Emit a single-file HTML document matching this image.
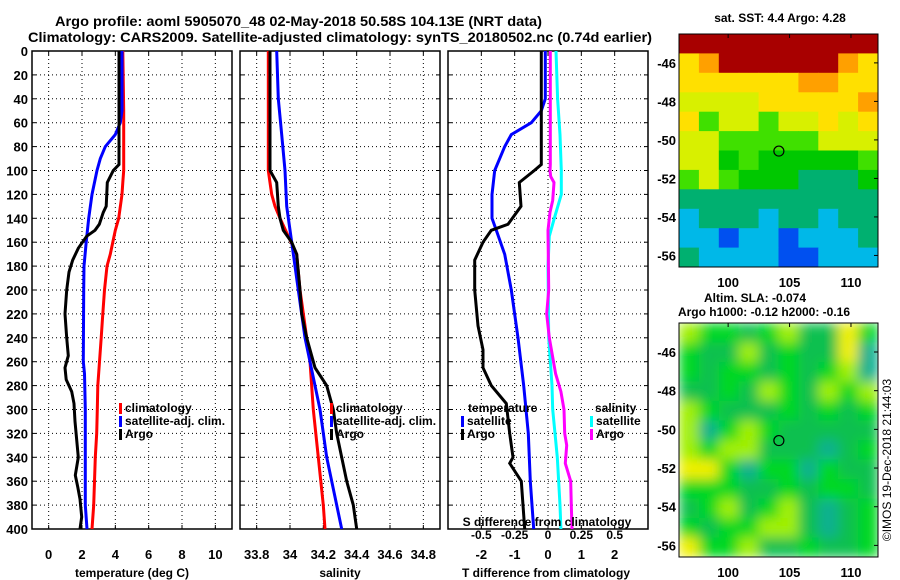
<!DOCTYPE html>
<html><head><meta charset="utf-8">
<style>
html,body{margin:0;padding:0;background:#fff;}
svg{display:block;font-family:"Liberation Sans",Arial,sans-serif;font-weight:bold;}
</style></head>
<body>
<svg id="c" width="900" height="580" viewBox="0 0 900 580" xmlns="http://www.w3.org/2000/svg">
<text x="55" y="26" font-size="14" textLength="487" lengthAdjust="spacingAndGlyphs">Argo profile: aoml 5905070_48 02-May-2018 50.58S 104.13E (NRT data)</text>
<text x="28" y="42" font-size="14" textLength="624" lengthAdjust="spacingAndGlyphs">Climatology: CARS2009. Satellite-adjusted climatology: synTS_20180502.nc (0.74d earlier)</text>
<g id="g"></g>
</svg>
<script>
// ---------- data ----------
const depthTicks=[0,20,40,60,80,100,120,140,160,180,200,220,240,260,280,300,320,340,360,380,400];
const tempTicks=[0,2,4,6,8,10];
const salTicks=[33.8,34,34.2,34.4,34.6,34.8];
const tdiffTicks=[-2,-1,0,1,2];
const sdiffTicks=[-0.5,-0.25,0,0.25,0.5];
const sdiffTickLabels=["-0.5","-0.25","0","0.25","0.5"];

const tClimDepth=[0,50,100,110,120,140,150,160,170,180,200,220,240,260,280,300,320,340,360,380,400];
const tClim=[4.45,4.5,4.5,4.45,4.4,4.2,4.0,3.85,3.7,3.5,3.35,3.25,3.15,3.05,2.95,2.92,2.88,2.8,2.75,2.7,2.6];
const tSatDepth=[0,50,60,70,80,90,100,120,140,160,180,200,260,270,300,340,380,400];
const tSat=[4.4,4.4,4.3,4.0,3.4,3.1,2.9,2.6,2.4,2.25,2.12,2.1,2.08,2.15,2.2,2.2,2.2,2.3];
const tArgoDepth=[0,95,100,110,130,135,145,150,155,165,175,185,200,220,240,255,265,275,285,295,310,340,355,365,375,390,400];
const tArgo=[4.22,4.22,3.88,3.52,3.45,3.28,3.04,2.78,2.28,1.78,1.44,1.22,1.08,0.98,1.08,1.18,0.98,1.05,1.38,1.52,1.58,1.78,1.6,1.75,1.88,1.98,1.88];

const sClimDepth=[0,100,110,120,130,140,155,170,200,240,260,300,340,380,400];
const sClim=[33.87,33.87,33.88,33.89,33.91,33.94,33.99,34.04,34.06,34.1,34.12,34.14,34.17,34.2,34.21];
const sSatDepth=[0,40,70,100,130,160,200,240,280,300,340,380,400];
const sSat=[33.92,33.93,33.95,33.97,33.98,34.01,34.05,34.09,34.15,34.18,34.22,34.28,34.31];
const sArgoDepth=[0,95,100,110,130,140,150,160,170,200,220,240,265,280,300,320,340,360,380,400];
const sArgo=[33.88,33.88,33.88,33.92,33.93,33.94,33.96,34.01,34.04,34.06,34.07,34.1,34.15,34.22,34.26,34.28,34.31,34.34,34.38,34.4];

const dTSatDepth=[0,40,50,60,70,80,100,120,140,150,170,200,240,280,320,360,400];
const dTSat=[-0.08,-0.08,-0.2,-0.5,-1.1,-1.3,-1.6,-1.68,-1.68,-1.55,-1.3,-1.1,-0.9,-0.73,-0.59,-0.53,-0.43];
const dTArgoDepth=[0,95,100,110,130,135,145,150,160,175,200,230,250,265,280,295,320,340,345,360,380,400];
const dTArgo=[-0.2,-0.2,-0.41,-0.86,-0.81,-0.94,-1.2,-1.7,-1.95,-2.2,-2.2,-2.1,-1.95,-1.95,-1.7,-1.25,-1.15,-1.05,-1.15,-0.8,-0.75,-0.7];
const dSSatDepth=[0,40,70,100,120,140,155,180,240,280,300,340,380,400];
const dSSat=[0.06,0.072,0.09,0.1,0.1,0.047,0.01,0,0.005,0.03,0.035,0.07,0.09,0.097];
const dSArgoDepth=[0,95,100,105,110,125,135,150,200,220,240,270,285,300,320,330,345,360,380,400];
const dSArgo=[0.017,0.017,0.015,0.02,0.045,0.035,0.015,0,0.005,-0.01,0.01,0.057,0.097,0.12,0.125,0.14,0.13,0.17,0.175,0.18];

// map grids (levels)
const sstGrid=[
[8,8,8,8,8,8,8,8,8,8],
[6,7,8,8,8,8,8,8,7,6],
[6,6,6,6,6,6,7,7,6,6],
[5,5,5,5,6,6,6,6,6,7],
[6,4,5,5,4,5,5,6,5,6],
[5,5,4,4,4,4,4,5,5,5],
[5,5,3,4,3,3,3,3,3,4],
[4,5,4,3,3,3,2,2,2,3],
[2,2,2,2,2,2,2,2,2,2],
[1,2,2,2,1,2,2,1,2,2],
[1,1,0,1,1,0,1,1,1,2],
[2,1,1,1,1,0,0,1,1,1]];
const slaGrid=[
[4,3,3,2,3,4,2,2,5,3],
[3,2,2,4,2,3,2,2,5,1],
[3,2,3,3,2,3,2,3,4,1],
[2,2,3,2,4,3,2,4,3,4],
[4,3,2,2,2,3,2,3,2,3],
[4,1,3,4,3,2,2,2,2,2],
[4,3,4,4,2,2,2,1,2,3],
[5,5,3,1,3,3,1,3,2,2],
[3,3,3,2,2,3,2,3,3,2],
[2,3,4,2,3,4,2,1,2,3],
[3,2,3,3,4,4,2,1,2,3],
[5,3,3,4,2,2,3,2,2,3]];
const latTicks=[-46,-48,-50,-52,-54,-56];
const lonTicks=[100,105,110];

// ---------- drawing ----------
const NS="http://www.w3.org/2000/svg";
const G=document.getElementById('g');
function mk(tag,at,parent){const e=document.createElementNS(NS,tag);for(const k in at)e.setAttribute(k,at[k]);(parent||G).appendChild(e);return e;}
const Y0=51,Y1=529;
const yD=d=>Y0+(d/400)*(Y1-Y0);
function lin(d0,d1,p0,p1){return v=>p0+(v-d0)/(d1-d0)*(p1-p0);}

function panel(x0,x1,name,xs,ticks,labels,showY){
  const box=mk('rect',{x:x0,y:Y0,width:x1-x0,height:Y1-Y0,fill:'none',stroke:'#000','stroke-width':1.5});
  
  
  depthTicks.forEach(d=>{
    if(d>0&&d<400){const l=mk('line',{x1:x0,x2:x1,y1:yD(d),y2:yD(d),stroke:'#000','stroke-width':1,'stroke-dasharray':'1,3'});
    }
    mk('line',{x1:x0,x2:x0+4,y1:yD(d),y2:yD(d),stroke:'#000'});
    mk('line',{x1:x1-4,x2:x1,y1:yD(d),y2:yD(d),stroke:'#000'});
    if(showY){const t=mk('text',{x:x0-4,y:yD(d)+5,'text-anchor':'end','font-size':13});t.textContent=d;
      }
  });
  ticks.forEach((v,i)=>{
    const x=xs(v);
    const l=mk('line',{x1:x,x2:x,y1:Y0,y2:Y1,stroke:'#000','stroke-dasharray':'1,3'});
    
    mk('line',{x1:x,x2:x,y1:Y1-4,y2:Y1,stroke:'#000'});
    mk('line',{x1:x,x2:x,y1:Y0,y2:Y0+4,stroke:'#000'});
    const t=mk('text',{x:x,y:559,'text-anchor':'middle','font-size':13});t.textContent=labels[i];
    
  });
}
function series(xs,depths,vals,color,name){
  let d='';vals.forEach((v,i)=>{d+=(i?'L':'M')+xs(v).toFixed(1)+','+yD(depths[i]).toFixed(1);});
  const p=mk('path',{d:d,fill:'none',stroke:color,'stroke-width':3,'stroke-linejoin':'miter'});
  
  
}
function text(x,y,s,name,opt){const t=mk('text',Object.assign({x:x,y:y,'font-size':12},opt||{}));t.textContent=s;
  return t;}
function legend(x,y,color,label,name){
  const r=mk('rect',{x:x,y:y-9,width:3,height:11,fill:color});
  
  text(x+6,y,label,name);
}

// Panel 1 temperature
const xT=lin(-1,11,32,232);
panel(32,232,'temperature-panel',xT,tempTicks,tempTicks.map(String),true);
series(xT,tClimDepth,tClim,'#ff0000','temp-climatology-line');
series(xT,tSatDepth,tSat,'#0000ff','temp-satellite-line');
series(xT,tArgoDepth,tArgo,'#000000','temp-argo-line');
legend(119,412,'#ff0000','climatology','temp-legend-climatology');
legend(119,425,'#0000ff','satellite-adj. clim.','temp-legend-satellite');
legend(119,438,'#000000','Argo','temp-legend-argo');
text(132,577,'temperature (deg C)','temperature-axis-title',{'text-anchor':'middle'});

// Panel 2 salinity
const xS=lin(33.7,34.9,240,440);
panel(240,440,'salinity-panel',xS,salTicks,salTicks.map(String),false);
series(xS,sClimDepth,sClim,'#ff0000','sal-climatology-line');
series(xS,sSatDepth,sSat,'#0000ff','sal-satellite-line');
series(xS,sArgoDepth,sArgo,'#000000','sal-argo-line');
legend(330,412,'#ff0000','climatology','sal-legend-climatology');
legend(330,425,'#0000ff','satellite-adj. clim.','sal-legend-satellite');
legend(330,438,'#000000','Argo','sal-legend-argo');
text(340,577,'salinity','salinity-axis-title',{'text-anchor':'middle'});

// Panel 3 differences
const xDT=lin(-3,3,448,648);
const xDS=lin(-0.75,0.75,448,648);
panel(448,648,'difference-panel',xDT,tdiffTicks,tdiffTicks.map(String),false);
series(xDS,dSSatDepth,dSSat,'#00ffff','sdiff-satellite-line');
series(xDS,dSArgoDepth,dSArgo,'#ff00ff','sdiff-argo-line');
series(xDT,dTSatDepth,dTSat,'#0000ff','tdiff-satellite-line');
series(xDT,dTArgoDepth,dTArgo,'#000000','tdiff-argo-line');
text(468,412,'temperature','diff-legend-temperature-heading');
legend(461,425,'#0000ff','satellite','diff-legend-temp-satellite');
legend(461,438,'#000000','Argo','diff-legend-temp-argo');
text(595,412,'salinity','diff-legend-salinity-heading');
legend(590,425,'#00ffff','satellite','diff-legend-sal-satellite');
legend(590,438,'#ff00ff','Argo','diff-legend-sal-argo');
text(547,526,'S difference from climatology','s-diff-axis-title',{'text-anchor':'middle'});
sdiffTicks.forEach((v,i)=>text(xDS(v),539,sdiffTickLabels[i],'s-diff-tick-label',{'text-anchor':'middle'}));
text(546,577,'T difference from climatology','t-diff-axis-title',{'text-anchor':'middle'});

// Maps
const sstColors=['#0050f0','#00b8e8','#00b070','#00c800','#40e000','#d8f000','#ffe000','#ffa000','#a80000'];
const slaColors=['#30c8d0','#10b090','#10c050','#00d820','#a0f000','#f0f000','#f0b000'];
function map(x0,x1,y0,y1,grid,colors,name,blur){
  const lon=lin(96,112.2,x0,x1), lat=lin(-44.5,-56.6,y0,y1);
  const g=mk('g',{});
  
  const cid=name+'-clip';
  const cp=mk('clipPath',{id:cid},g);mk('rect',{x:x0,y:y0,width:x1-x0,height:y1-y0},cp);
  const inner=mk('g',{'clip-path':'url(#'+cid+')'},g);
  const target=blur?mk('g',{filter:'url(#blur)'},inner):inner;
  const rows=grid.length, cols=grid[0].length;
  const cw=(x1-x0)/cols, ch=(y1-y0)/rows;
  grid.forEach((row,r)=>row.forEach((v,c)=>{
    const rc=mk('rect',{x:(x0+c*cw).toFixed(1),y:(y0+r*ch).toFixed(1),width:(cw+0.6).toFixed(1),height:(ch+0.6).toFixed(1),fill:colors[v]},target);
    
    
  }));
  mk('rect',{x:x0,y:y0,width:x1-x0,height:y1-y0,fill:'none',stroke:'#000','stroke-width':1},g);
  latTicks.forEach(v=>{const y=lat(v);mk('line',{x1:x1-4,x2:x1,y1:y,y2:y,stroke:'#000'},g);
    text(x0-3,y+5,String(v),name+'-lat-label',{'text-anchor':'end','font-size':13});});
  lonTicks.forEach(v=>{const x=lon(v);mk('line',{x1:x,x2:x,y1:y0,y2:y0+4,stroke:'#000'},g);
    text(x,y1+20,String(v),name+'-lon-label',{'text-anchor':'middle','font-size':13});});
  const c=mk('circle',{cx:lon(104.13),cy:lat(-50.58),r:5,fill:'none',stroke:'#000','stroke-width':1.2},g);
  
}
const defs=mk('defs',{});const f=mk('filter',{id:'blur',x:'-10%',y:'-10%',width:'120%',height:'120%'},defs);
mk('feGaussianBlur',{stdDeviation:6},f);
map(679,878,34,267,sstGrid,sstColors,'sst-map',false);
map(679,878,323,557,slaGrid,slaColors,'sla-map',true);
text(780,22,'sat. SST: 4.4 Argo: 4.28','sst-map-title',{'text-anchor':'middle'});
text(755,302,'Altim. SLA: -0.074','sla-map-title',{'text-anchor':'middle'});
text(764,316,'Argo h1000: -0.12 h2000: -0.16','sla-map-subtitle',{'text-anchor':'middle'});
text(0,0,'©IMOS 19-Dec-2018 21:44:03','copyright-text',{'text-anchor':'middle','font-weight':'normal','transform':'translate(891,460) rotate(-90)'});
</script>
</body></html>
